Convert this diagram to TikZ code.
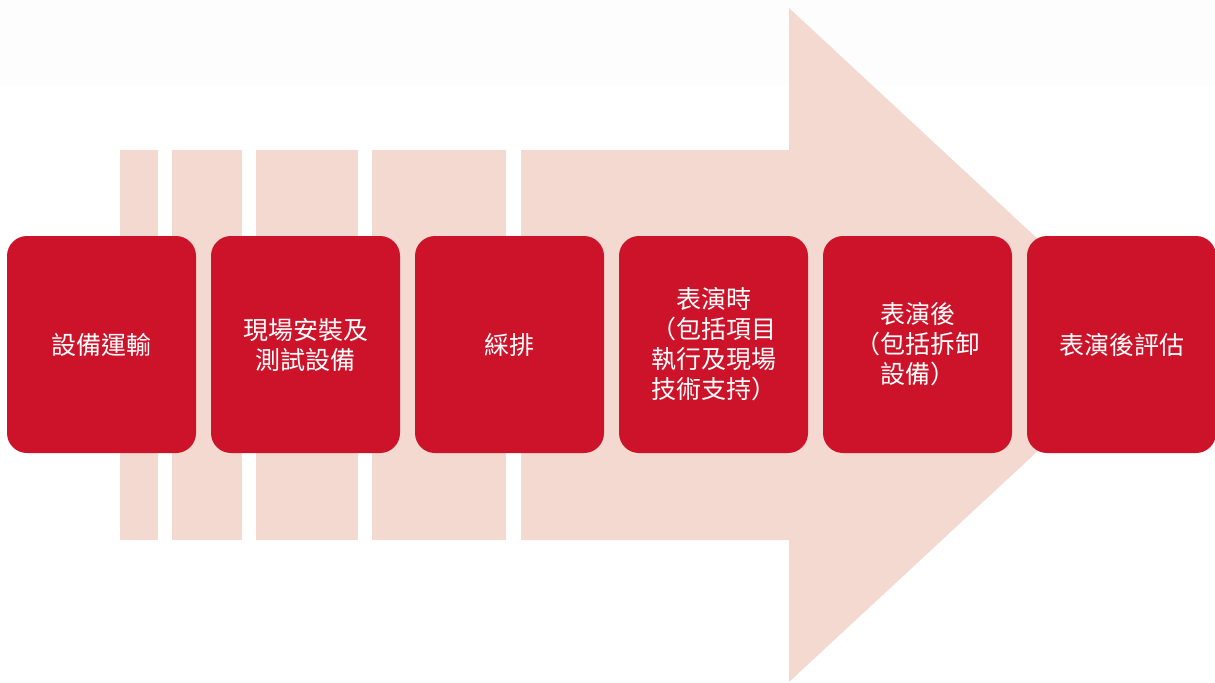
\documentclass[tikz,border=0pt]{standalone}
\usepackage{fontspec}
\newfontfamily\cjk{Noto Sans CJK TC}
\usetikzlibrary{positioning}
\definecolor{stagered}{HTML}{CD1329}
\definecolor{flowpink}{HTML}{F3D9CF}
\definecolor{topband}{HTML}{FDFDFD}

\begin{document}
\begin{tikzpicture}[x=0.5pt, y=-0.5pt, node distance=7.5pt]
	\tikzstyle{stage} = [rectangle, rounded corners=10pt, fill=stagered, text=white, minimum width=94.5pt, minimum height=108.5pt, text width=80pt, align=center, inner sep=0pt, outer sep=0pt, font=\cjk\fontsize{12.5pt}{15pt}\selectfont];

	\useasboundingbox (0,0) rectangle (1215,682);
	\fill [topband] (0,0) rectangle (1215,85);

	% stripes and arrow behind the stages
	\fill [flowpink] (120,150) rectangle (158,540);
	\fill [flowpink] (172,150) rectangle (242,540);
	\fill [flowpink] (256,150) rectangle (358,540);
	\fill [flowpink] (372,150) rectangle (506,540);
	\fill [flowpink] (521,150) -- (789,150) -- (789,8) -- (1152,345) -- (789,682) -- (789,540) -- (521,540) -- cycle;

	\node [stage]                      (s_1) at (101.5,344.5) {設備運輸};
	\node [stage] [right=of s_1]       (s_2) {現場安裝及\\測試設備};
	\node [stage] [right=of s_2]       (s_3) {綵排};
	\node [stage] [right=of s_3]       (s_4) {表演時\\（包括項目\\執行及現場\\技術支持）};
	\node [stage] [right=of s_4]       (s_5) {表演後\\（包括拆卸\\設備）};
	\node [stage] [right=of s_5]       (s_6) {表演後評估};
\end{tikzpicture}
\end{document}
